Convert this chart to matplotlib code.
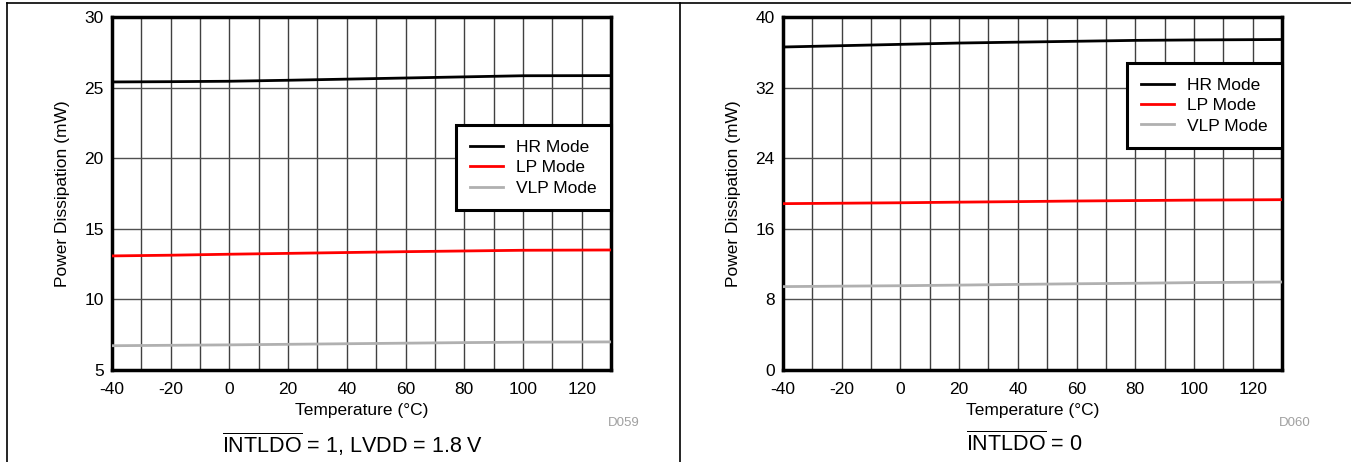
import matplotlib.pyplot as plt
from matplotlib.lines import Line2D
from matplotlib.ticker import MultipleLocator

plt.rcParams['font.family'] = ['Liberation Sans', 'DejaVu Sans']
plt.rcParams['mathtext.fontset'] = 'custom'
plt.rcParams['mathtext.rm'] = 'Liberation Sans'
plt.rcParams['axes.unicode_minus'] = False

# temperature (°C)
temp = [-40, -20, 0, 20, 40, 60, 80, 100, 130]

# INTLDO = 1, LVDD = 1.8 V
hr_1 = [25.40, 25.42, 25.45, 25.52, 25.60, 25.68, 25.76, 25.84, 25.85]
lp_1 = [13.08, 13.13, 13.20, 13.26, 13.32, 13.38, 13.43, 13.48, 13.50]
vlp_1 = [6.72, 6.75, 6.78, 6.82, 6.86, 6.90, 6.94, 6.97, 6.99]

# INTLDO = 0
hr_0 = [36.6, 36.75, 36.9, 37.05, 37.15, 37.25, 37.35, 37.4, 37.45]
lp_0 = [18.85, 18.9, 18.95, 19.02, 19.08, 19.15, 19.2, 19.25, 19.3]
vlp_0 = [9.45, 9.5, 9.55, 9.62, 9.7, 9.77, 9.83, 9.9, 9.97]

xticks = [-40, -20, 0, 20, 40, 60, 80, 100, 120]
labels = ['HR Mode', 'LP Mode', 'VLP Mode']
colors = ['black', '#ff0000', '#b0b0b0']

W, H = 1351, 462
fig = plt.figure(figsize=(W / 100, H / 100), dpi=100)

# panel frame lines
fig.add_artist(Line2D([7 / W, 7 / W], [0, 1 - 3 / H], color='black', lw=1.2))
fig.add_artist(Line2D([680 / W, 680 / W], [0, 1 - 3 / H], color='black', lw=1.2))
fig.add_artist(Line2D([7 / W, 1], [1 - 3 / H, 1 - 3 / H], color='black', lw=1.2))


def panel(left, series, ylim, ystep, caption, code, code_x, leg_top):
    ax = fig.add_axes([left / W, (H - 370) / H, 499 / W, 353 / H])
    for y, lab, c in zip(series, labels, colors):
        ax.plot(temp, y, color=c, lw=2, label=lab, zorder=3)
    ax.set_xlim(-40, 130)
    ax.set_ylim(*ylim)
    ax.set_xticks(xticks)
    ax.xaxis.set_minor_locator(MultipleLocator(10))
    ax.yaxis.set_major_locator(MultipleLocator(ystep))
    ax.grid(True, which='major', axis='y', color='#505050', lw=1)
    ax.grid(True, which='both', axis='x', color='#404040', lw=1)
    ax.tick_params(which='both', length=0, labelsize=12.5)
    ax.tick_params(axis='x', pad=9)
    ax.tick_params(axis='y', pad=6)
    for s in ax.spines.values():
        s.set_linewidth(2.5)
    ax.set_xlabel('Temperature (°C)', fontsize=12.5, labelpad=4)
    ax.set_ylabel('Power Dissipation (mW)', fontsize=12.5, labelpad=10)
    leg = ax.legend(loc='upper right', bbox_to_anchor=(1.0, leg_top),
                    fontsize=12.5, fancybox=False, framealpha=1, edgecolor='black',
                    handlelength=1.9, handletextpad=0.7, borderpad=0.85,
                    labelspacing=0.3, borderaxespad=0)
    leg.get_frame().set_linewidth(2.2)
    for ln in leg.get_lines():
        ln.set_linewidth(2)
    fig.text(code_x / W, 1 - 423 / H, code, fontsize=9.5, color='#a0a0a0', ha='center', va='center')
    fig.text((left + 241) / W, 1 - 444 / H, caption, fontsize=15.5, ha='center', va='center')
    return ax


panel(112, [hr_1, lp_1, vlp_1], (5, 30), 5,
      r'$\overline{\mathrm{INTLDO}}$ = 1, LVDD = 1.8 V', 'D059', 624, 0.694)
panel(783, [hr_0, lp_0, vlp_0], (0, 40), 8,
      r'$\overline{\mathrm{INTLDO}}$ = 0', 'D060', 1295, 0.87)

fig.savefig('out.png', dpi=100)
